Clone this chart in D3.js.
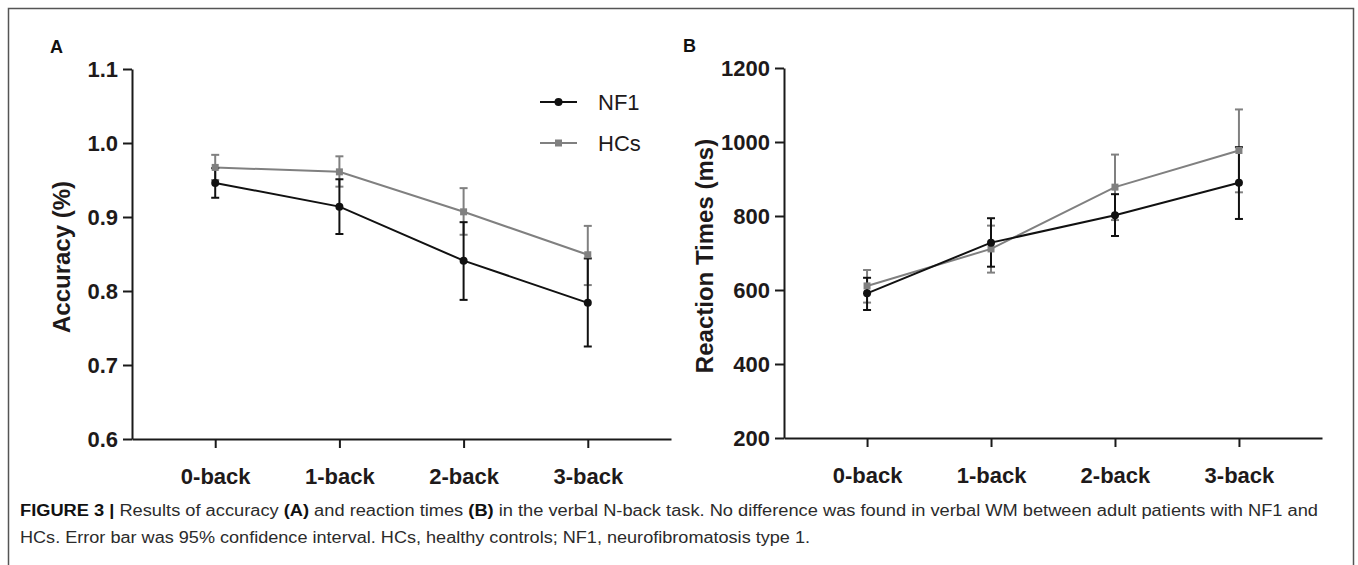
<!DOCTYPE html>
<html>
<head>
<meta charset="utf-8">
<script src="https://cdn.jsdelivr.net/npm/d3@7"></script>
<style>
  body { margin: 0; background: #fff; }
  svg { display: block; font-family: "Liberation Sans", Arial, sans-serif; }
</style>
</head>
<body>
<svg id="chart" width="1358" height="565"></svg>
<script>
const categories = ["0-back", "1-back", "2-back", "3-back"];

// accuracy, panel A (mean and 95% CI bounds)
const acc_nf1 = [0.946, 0.914, 0.841, 0.784];
const acc_nf1_low = [0.926, 0.877, 0.788, 0.725];
const acc_nf1_high = [0.966, 0.951, 0.893, 0.844];
const acc_hc = [0.967, 0.961, 0.907, 0.849];
const acc_hc_low = [0.950, 0.941, 0.876, 0.808];
const acc_hc_high = [0.984, 0.982, 0.939, 0.888];
const acc_ticks = [0.6, 0.7, 0.8, 0.9, 1.0, 1.1];

// reaction times, panel B
const rt_nf1 = [591, 728, 802, 890];
const rt_nf1_low = [546, 663, 746, 792];
const rt_nf1_high = [633, 794, 859, 986];
const rt_hc = [611, 711, 878, 977];
const rt_hc_low = [566, 647, 789, 864];
const rt_hc_high = [654, 774, 966, 1088];
const rt_ticks = [200, 400, 600, 800, 1000, 1200];

const series_names = ["NF1", "HCs"];
const series_colors = ["#111111", "#808080"];

function zip_series(mean, low, high) {
  return categories.map((c, i) => ({ cat: c, value: mean[i], low: low[i], high: high[i] }));
}

function build_panel(svg, opts) {
  const g = svg.append("g");

  const x = d3
    .scalePoint()
    .domain(categories)
    .range([opts.left, opts.right])
    .padding(0.67);

  const y = d3
    .scaleLinear()
    .domain(opts.domain)
    .range([opts.bottom, opts.top]);

  // eixo y
  g.append("g")
    .attr("transform", `translate(${opts.left},0)`)
    .call(d3.axisLeft(y).tickValues(opts.ticks).tickSize(9).tickSizeOuter(0).tickPadding(5).tickFormat(opts.fmt))
    .call((a) => a.selectAll("path, line").attr("stroke", "#1a1a1a").attr("stroke-width", 2))
    .call((a) => a.selectAll("text").attr("font-size", 22).attr("font-weight", "bold").attr("fill", "#1e1a1a"));

  // eixo x
  g.append("g")
    .attr("transform", `translate(0,${opts.bottom})`)
    .call(d3.axisBottom(x).tickSize(9).tickSizeOuter(0).tickPadding(20))
    .call((a) => a.selectAll("path, line").attr("stroke", "#1a1a1a").attr("stroke-width", 2))
    .call((a) => a.selectAll("text").attr("font-size", 22).attr("font-weight", "bold").attr("fill", "#1e1a1a"));

  g.append("text")
    .attr("transform", `translate(${opts.title_x},${(opts.top + opts.bottom) / 2 + 3}) rotate(-90)`)
    .attr("text-anchor", "middle")
    .attr("dy", "0.35em")
    .attr("font-size", 24)
    .attr("font-weight", "bold")
    .attr("fill", "#1e1a1a")
    .text(opts.title);

  g.append("text")
    .attr("x", opts.label_x)
    .attr("y", opts.label_y)
    .attr("font-size", 18)
    .attr("font-weight", "bold")
    .attr("fill", "#111")
    .text(opts.label);

  const line = d3
    .line()
    .x((d) => x(d.cat))
    .y((d) => y(d.value));

  // HCs first, NF1 drawn over it
  [1, 0].forEach((k) => {
    const data = opts.series[k];
    const color = series_colors[k];
    g.append("path")
      .datum(data)
      .attr("fill", "none")
      .attr("stroke", color)
      .attr("stroke-width", 2)
      .attr("d", line);
  });

  [1, 0].forEach((k) => {
    const data = opts.series[k];
    const color = series_colors[k];
    const bars = g.append("g").attr("stroke", color).attr("stroke-width", 2);
    bars.selectAll(".bar")
      .data(data)
      .enter()
      .append("line")
      .attr("x1", (d) => x(d.cat))
      .attr("x2", (d) => x(d.cat))
      .attr("y1", (d) => y(d.low))
      .attr("y2", (d) => y(d.high));
    ["low", "high"].forEach((end) => {
      bars.selectAll(".cap-" + end)
        .data(data)
        .enter()
        .append("line")
        .attr("x1", (d) => x(d.cat) - 4)
        .attr("x2", (d) => x(d.cat) + 4)
        .attr("y1", (d) => y(d[end]))
        .attr("y2", (d) => y(d[end]));
    });
  });

  // markers
  g.selectAll(".sq")
    .data(opts.series[1])
    .enter()
    .append("rect")
    .attr("x", (d) => x(d.cat) - 3.5)
    .attr("y", (d) => y(d.value) - 3.5)
    .attr("width", 7)
    .attr("height", 7)
    .attr("fill", series_colors[1]);

  g.selectAll(".dot")
    .data(opts.series[0])
    .enter()
    .append("circle")
    .attr("cx", (d) => x(d.cat))
    .attr("cy", (d) => y(d.value))
    .attr("r", 4)
    .attr("fill", series_colors[0]);
}

const svg = d3.select("#chart");

// moldura
svg.append("rect")
  .attr("x", 8.5)
  .attr("y", 8.5)
  .attr("width", 1345)
  .attr("height", 570)
  .attr("fill", "none")
  .attr("stroke", "#555")
  .attr("stroke-width", 1.5);

build_panel(svg, {
  left: 132, right: 671, top: 69, bottom: 439,
  domain: [0.6, 1.1],
  ticks: acc_ticks,
  fmt: d3.format(".1f"),
  title: "Accuracy (%)",
  title_x: 62,
  label: "A", label_x: 50, label_y: 53,
  series: [zip_series(acc_nf1, acc_nf1_low, acc_nf1_high), zip_series(acc_hc, acc_hc_low, acc_hc_high)],
});

build_panel(svg, {
  left: 784, right: 1322, top: 68, bottom: 438,
  domain: [200, 1200],
  ticks: rt_ticks,
  fmt: d3.format("d"),
  title: "Reaction Times (ms)",
  title_x: 705,
  label: "B", label_x: 683, label_y: 52,
  series: [zip_series(rt_nf1, rt_nf1_low, rt_nf1_high), zip_series(rt_hc, rt_hc_low, rt_hc_high)],
});

// legenda (painel A)
const legend = svg.append("g").attr("transform", "translate(540,102)");
series_names.forEach((name, i) => {
  const row = legend.append("g").attr("transform", `translate(0,${i * 41})`);
  row.append("line")
    .attr("x1", 0).attr("x2", 37)
    .attr("stroke", series_colors[i]).attr("stroke-width", 2);
  if (i === 0) {
    row.append("circle").attr("cx", 18.5).attr("r", 4).attr("fill", series_colors[i]);
  } else {
    row.append("rect").attr("x", 15).attr("y", -3.5).attr("width", 7).attr("height", 7).attr("fill", series_colors[i]);
  }
  row.append("text")
    .attr("x", 58)
    .attr("dy", "0.36em")
    .attr("font-size", 22)
    .attr("fill", "#1e1a1a")
    .text(name);
});

// legenda da figura
const caption = svg.append("g")
  .attr("font-family", "'Liberation Sans Narrow', 'Arial Narrow', 'Liberation Sans', sans-serif")
  .attr("font-size", 16)
  .attr("fill", "#2b2b2b");

const cap1 = caption.append("text")
  .attr("x", 20).attr("y", 516)
  .attr("textLength", 1298)
  .attr("lengthAdjust", "spacingAndGlyphs");
cap1.append("tspan").attr("font-weight", "bold").attr("fill", "#111").text("FIGURE 3 | ");
cap1.append("tspan").text("Results of accuracy ");
cap1.append("tspan").attr("font-weight", "bold").attr("fill", "#111").text("(A)");
cap1.append("tspan").text(" and reaction times ");
cap1.append("tspan").attr("font-weight", "bold").attr("fill", "#111").text("(B)");
cap1.append("tspan").text(" in the verbal N-back task. No difference was found in verbal WM between adult patients with NF1 and");

caption.append("text")
  .attr("x", 20).attr("y", 543)
  .attr("textLength", 790)
  .attr("lengthAdjust", "spacingAndGlyphs")
  .text("HCs. Error bar was 95% confidence interval. HCs, healthy controls; NF1, neurofibromatosis type 1.");
</script>
</body>
</html>
